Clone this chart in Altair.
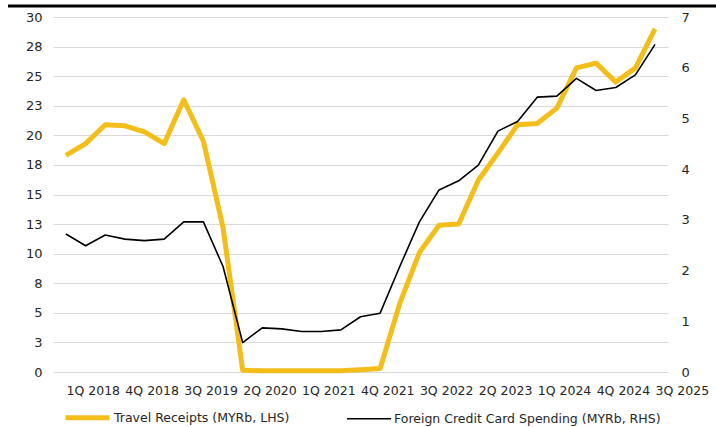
import altair as alt
import pandas as pd

quarters = [
    "1Q 2018", "2Q 2018", "3Q 2018", "4Q 2018",
    "1Q 2019", "2Q 2019", "3Q 2019", "4Q 2019",
    "1Q 2020", "2Q 2020", "3Q 2020", "4Q 2020",
    "1Q 2021", "2Q 2021", "3Q 2021", "4Q 2021",
    "1Q 2022", "2Q 2022", "3Q 2022", "4Q 2022",
    "1Q 2023", "2Q 2023", "3Q 2023", "4Q 2023",
    "1Q 2024", "2Q 2024", "3Q 2024", "4Q 2024",
    "1Q 2025", "2Q 2025", "3Q 2025",
]
travel_receipts = [18.3, 19.3, 20.9, 20.8, 20.3, 19.3, 23.0, 19.5, 12.2, 0.15, 0.1, 0.1,
                   0.1, 0.1, 0.1, 0.2, 0.3, 5.8, 10.1, 12.4, 12.5, 16.2, 18.5, 20.9,
                   21.0, 22.3, 25.7, 26.1, 24.5, 25.7, 29.0]
card_spending = [2.72, 2.49, 2.70, 2.62, 2.59, 2.62, 2.96, 2.96, 2.08, 0.58, 0.87, 0.85,
                 0.80, 0.80, 0.83, 1.09, 1.16, 2.08, 2.96, 3.59, 3.77, 4.08, 4.75, 4.94,
                 5.42, 5.44, 5.79, 5.55, 5.61, 5.86, 6.46]
tick_labels = ["1Q 2018", "4Q 2018", "3Q 2019", "2Q 2020", "1Q 2021", "4Q 2021",
               "3Q 2022", "2Q 2023", "1Q 2024", "4Q 2024", "3Q 2025"]
left_ticks = [0, 2.5, 5, 7.5, 10, 12.5, 15, 17.5, 20, 22.5, 25, 27.5, 30]
right_ticks = [0, 1, 2, 3, 4, 5, 6, 7]
series_names = ["Travel Receipts (MYRb, LHS)", "Foreign Credit Card Spending (MYRb, RHS)"]
series_colors = ["#F4BE1A", "#000000"]
series_widths = [5, 1.6]

df_travel = pd.DataFrame({"quarter": quarters, "value": travel_receipts, "series": series_names[0]})
df_card = pd.DataFrame({"quarter": quarters, "value": card_spending, "series": series_names[1]})

text_color = "#262626"
font = "DejaVu Sans"

color_scale = alt.Scale(domain=series_names, range=series_colors)
width_scale = alt.Scale(domain=series_names, range=series_widths)

legend = alt.Legend(title=None, orient="none", legendX=10, legendY=376, direction="horizontal",
                    labelLimit=500)

x_enc = alt.X(
    "quarter:N", sort=quarters,
    scale=alt.Scale(type="point", padding=0.66),
    axis=alt.Axis(values=tick_labels, labelAlign="left", labelAngle=0, ticks=False,
                  domain=False, grid=False, labelPadding=12, title=None,
                  labelFontSize=12.5, labelFont=font, labelColor=text_color,
                  labelOverlap=False),
)

travel_line = alt.Chart(df_travel).mark_line(strokeJoin="round").encode(
    x=x_enc,
    y=alt.Y("value:Q", scale=alt.Scale(domain=[0, 30]),
            axis=alt.Axis(orient="left", values=left_ticks, format=".0f", title=None,
                          grid=True, gridColor="#d9d9d9", gridWidth=1, domain=False,
                          ticks=False, labelPadding=11, labelFontSize=13,
                          labelFont=font, labelColor=text_color)),
    color=alt.Color("series:N", scale=color_scale, legend=legend),
    strokeWidth=alt.StrokeWidth("series:N", scale=width_scale, legend=legend),
)

card_line = alt.Chart(df_card).mark_line(strokeJoin="round").encode(
    x=x_enc,
    y=alt.Y("value:Q", scale=alt.Scale(domain=[0, 7]),
            axis=alt.Axis(orient="right", values=right_ticks, format=".0f", title=None,
                          grid=False, domain=False, ticks=False, labelPadding=13,
                          labelAlign="left", labelFontSize=13,
                          labelFont=font, labelColor=text_color)),
    color=alt.Color("series:N", scale=color_scale, legend=legend),
    strokeWidth=alt.StrokeWidth("series:N", scale=width_scale, legend=legend),
)

top_bar = alt.Chart(pd.DataFrame({"a": [0]})).mark_rule(color="#000000", strokeWidth=3).encode(
    x=alt.value(-45), x2=alt.value(663), y=alt.value(-11)
)

chart = alt.layer(travel_line, card_line, top_bar).resolve_scale(
    y="independent"
).properties(
    width=615, height=355,
    autosize=alt.AutoSizeParams(type="none"),
    padding={"left": 53, "top": 17, "right": 48, "bottom": 55},
    background="#ffffff",
).configure_view(stroke=None).configure_legend(
    orient="none", legendX=10, legendY=376, direction="horizontal",
    symbolType="stroke", symbolSize=1936, labelLimit=500,
    labelFontSize=12.5, labelFont=font, labelColor=text_color,
    columnPadding=53, labelOffset=2, padding=0, titlePadding=0,
)

chart.save("out.html", embed_options={"renderer": "svg", "actions": False})
